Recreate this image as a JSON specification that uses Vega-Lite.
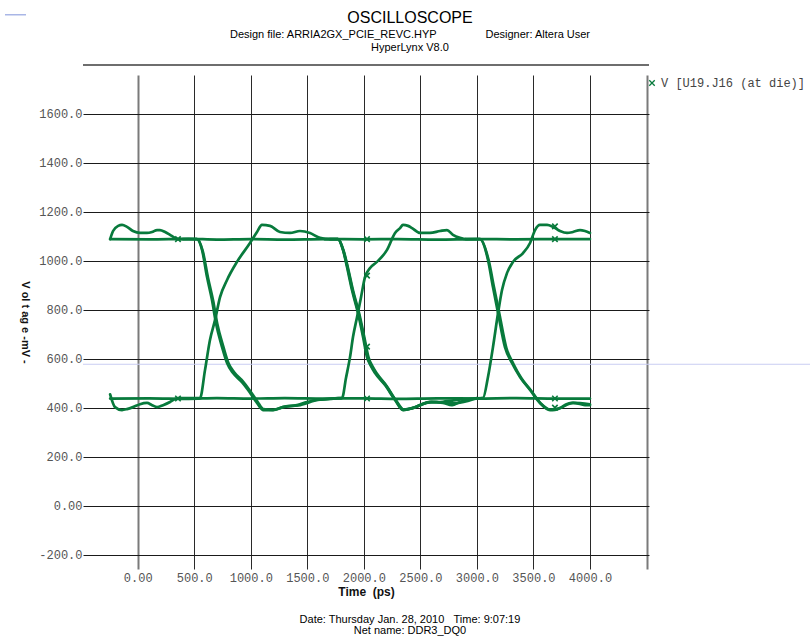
{
  "$schema": "https://vega.github.io/schema/vega-lite/v6.json",
  "width": 566,
  "height": 494,
  "autosize": {"type": "none"},
  "padding": {"left": 83, "top": 75, "right": 161, "bottom": 74},
  "background": "white",
  "datasets": {
    "traces": [
      {"trace": "a", "t": -244, "v": 1089}, {"trace": "a", "t": -218, "v": 1122}, {"trace": "a", "t": -173, "v": 1143}, {"trace": "a", "t": -139, "v": 1147},
      {"trace": "a", "t": -95, "v": 1139}, {"trace": "a", "t": -42, "v": 1122}, {"trace": "a", "t": 20, "v": 1114}, {"trace": "a", "t": 82, "v": 1114},
      {"trace": "a", "t": 127, "v": 1118}, {"trace": "a", "t": 171, "v": 1126}, {"trace": "a", "t": 197, "v": 1126}, {"trace": "a", "t": 242, "v": 1118},
      {"trace": "a", "t": 286, "v": 1106}, {"trace": "a", "t": 330, "v": 1094}, {"trace": "a", "t": 356, "v": 1089}, {"trace": "a", "t": 418, "v": 1089},
      {"trace": "a", "t": 524, "v": 1089}, {"trace": "a", "t": 569, "v": 1045}, {"trace": "a", "t": 613, "v": 934}, {"trace": "a", "t": 657, "v": 840},
      {"trace": "a", "t": 692, "v": 746}, {"trace": "a", "t": 746, "v": 648}, {"trace": "a", "t": 790, "v": 583}, {"trace": "a", "t": 843, "v": 542},
      {"trace": "a", "t": 922, "v": 505}, {"trace": "a", "t": 976, "v": 473}, {"trace": "a", "t": 1055, "v": 420}, {"trace": "a", "t": 1108, "v": 391},
      {"trace": "a", "t": 1197, "v": 391}, {"trace": "a", "t": 1285, "v": 403}, {"trace": "a", "t": 1409, "v": 411}, {"trace": "a", "t": 1497, "v": 424},
      {"trace": "a", "t": 1586, "v": 432}, {"trace": "a", "t": 1701, "v": 436}, {"trace": "a", "t": 1771, "v": 440}, {"trace": "a", "t": 1807, "v": 440},
      {"trace": "a", "t": 1842, "v": 522}, {"trace": "a", "t": 1878, "v": 608}, {"trace": "a", "t": 1904, "v": 689}, {"trace": "a", "t": 1940, "v": 771},
      {"trace": "a", "t": 1975, "v": 852}, {"trace": "a", "t": 2010, "v": 934}, {"trace": "a", "t": 2055, "v": 971}, {"trace": "a", "t": 2116, "v": 996},
      {"trace": "a", "t": 2205, "v": 1045}, {"trace": "a", "t": 2276, "v": 1114}, {"trace": "a", "t": 2320, "v": 1134}, {"trace": "a", "t": 2346, "v": 1147},
      {"trace": "a", "t": 2391, "v": 1143}, {"trace": "a", "t": 2426, "v": 1134}, {"trace": "a", "t": 2497, "v": 1114}, {"trace": "a", "t": 2585, "v": 1114},
      {"trace": "a", "t": 2674, "v": 1122}, {"trace": "a", "t": 2735, "v": 1126}, {"trace": "a", "t": 2788, "v": 1106}, {"trace": "a", "t": 2850, "v": 1094},
      {"trace": "a", "t": 2912, "v": 1089}, {"trace": "a", "t": 3027, "v": 1089}, {"trace": "a", "t": 3098, "v": 1004}, {"trace": "a", "t": 3142, "v": 893},
      {"trace": "a", "t": 3187, "v": 787}, {"trace": "a", "t": 3248, "v": 648}, {"trace": "a", "t": 3310, "v": 583}, {"trace": "a", "t": 3381, "v": 526},
      {"trace": "a", "t": 3470, "v": 473}, {"trace": "a", "t": 3558, "v": 420}, {"trace": "a", "t": 3646, "v": 391}, {"trace": "a", "t": 3690, "v": 392},
      {"trace": "a", "t": 3735, "v": 399}, {"trace": "a", "t": 3797, "v": 416}, {"trace": "a", "t": 3850, "v": 420}, {"trace": "a", "t": 3912, "v": 416},
      {"trace": "a", "t": 3956, "v": 411}, {"trace": "a", "t": 4000, "v": 411},

      {"trace": "b", "t": -244, "v": 455}, {"trace": "b", "t": -201, "v": 403}, {"trace": "b", "t": -139, "v": 391}, {"trace": "b", "t": -95, "v": 395},
      {"trace": "b", "t": -42, "v": 403}, {"trace": "b", "t": 20, "v": 415}, {"trace": "b", "t": 82, "v": 420}, {"trace": "b", "t": 127, "v": 411},
      {"trace": "b", "t": 171, "v": 403}, {"trace": "b", "t": 224, "v": 411}, {"trace": "b", "t": 286, "v": 424}, {"trace": "b", "t": 330, "v": 436},
      {"trace": "b", "t": 356, "v": 440}, {"trace": "b", "t": 418, "v": 440}, {"trace": "b", "t": 551, "v": 440}, {"trace": "b", "t": 595, "v": 554},
      {"trace": "b", "t": 639, "v": 677}, {"trace": "b", "t": 684, "v": 759}, {"trace": "b", "t": 728, "v": 852}, {"trace": "b", "t": 790, "v": 922},
      {"trace": "b", "t": 878, "v": 996}, {"trace": "b", "t": 993, "v": 1073}, {"trace": "b", "t": 1055, "v": 1118}, {"trace": "b", "t": 1099, "v": 1147},
      {"trace": "b", "t": 1170, "v": 1143}, {"trace": "b", "t": 1258, "v": 1118}, {"trace": "b", "t": 1347, "v": 1114}, {"trace": "b", "t": 1435, "v": 1122},
      {"trace": "b", "t": 1524, "v": 1114}, {"trace": "b", "t": 1612, "v": 1094}, {"trace": "b", "t": 1701, "v": 1089}, {"trace": "b", "t": 1771, "v": 1089},
      {"trace": "b", "t": 1816, "v": 1045}, {"trace": "b", "t": 1851, "v": 975}, {"trace": "b", "t": 1895, "v": 881}, {"trace": "b", "t": 1948, "v": 787},
      {"trace": "b", "t": 1993, "v": 689}, {"trace": "b", "t": 2028, "v": 607}, {"trace": "b", "t": 2063, "v": 570}, {"trace": "b", "t": 2099, "v": 542},
      {"trace": "b", "t": 2187, "v": 493}, {"trace": "b", "t": 2276, "v": 432}, {"trace": "b", "t": 2346, "v": 391}, {"trace": "b", "t": 2426, "v": 399},
      {"trace": "b", "t": 2497, "v": 411}, {"trace": "b", "t": 2585, "v": 424}, {"trace": "b", "t": 2700, "v": 420}, {"trace": "b", "t": 2780, "v": 411},
      {"trace": "b", "t": 2850, "v": 424}, {"trace": "b", "t": 2939, "v": 436}, {"trace": "b", "t": 3054, "v": 440}, {"trace": "b", "t": 3098, "v": 526},
      {"trace": "b", "t": 3142, "v": 648}, {"trace": "b", "t": 3187, "v": 787}, {"trace": "b", "t": 3222, "v": 881}, {"trace": "b", "t": 3266, "v": 950},
      {"trace": "b", "t": 3319, "v": 996}, {"trace": "b", "t": 3408, "v": 1032}, {"trace": "b", "t": 3470, "v": 1073}, {"trace": "b", "t": 3514, "v": 1126},
      {"trace": "b", "t": 3558, "v": 1147}, {"trace": "b", "t": 3620, "v": 1147}, {"trace": "b", "t": 3673, "v": 1139}, {"trace": "b", "t": 3735, "v": 1122},
      {"trace": "b", "t": 3797, "v": 1114}, {"trace": "b", "t": 3850, "v": 1118}, {"trace": "b", "t": 3912, "v": 1126}, {"trace": "b", "t": 3956, "v": 1122},
      {"trace": "b", "t": 4000, "v": 1114},

      {"trace": "c", "t": -244, "v": 1089}, {"trace": "c", "t": 100, "v": 1088}, {"trace": "c", "t": 450, "v": 1090}, {"trace": "c", "t": 700, "v": 1087},
      {"trace": "c", "t": 1000, "v": 1089}, {"trace": "c", "t": 1300, "v": 1087}, {"trace": "c", "t": 1650, "v": 1089}, {"trace": "c", "t": 2000, "v": 1088},
      {"trace": "c", "t": 2300, "v": 1089}, {"trace": "c", "t": 2650, "v": 1087}, {"trace": "c", "t": 3000, "v": 1089}, {"trace": "c", "t": 3350, "v": 1088},
      {"trace": "c", "t": 3700, "v": 1089}, {"trace": "c", "t": 4000, "v": 1089},

      {"trace": "d", "t": -244, "v": 438}, {"trace": "d", "t": 100, "v": 439}, {"trace": "d", "t": 450, "v": 437}, {"trace": "d", "t": 700, "v": 440},
      {"trace": "d", "t": 1000, "v": 438}, {"trace": "d", "t": 1300, "v": 440}, {"trace": "d", "t": 1650, "v": 438}, {"trace": "d", "t": 2000, "v": 439},
      {"trace": "d", "t": 2300, "v": 437}, {"trace": "d", "t": 2650, "v": 439}, {"trace": "d", "t": 3000, "v": 438}, {"trace": "d", "t": 3350, "v": 440},
      {"trace": "d", "t": 3700, "v": 438}, {"trace": "d", "t": 4000, "v": 438},

      {"trace": "e1", "t": 400, "v": 1089}, {"trace": "e1", "t": 524, "v": 1089}, {"trace": "e1", "t": 575, "v": 1040}, {"trace": "e1", "t": 622, "v": 930},
      {"trace": "e1", "t": 668, "v": 835}, {"trace": "e1", "t": 703, "v": 744}, {"trace": "e1", "t": 757, "v": 650}, {"trace": "e1", "t": 800, "v": 585},
      {"trace": "e1", "t": 853, "v": 545}, {"trace": "e1", "t": 930, "v": 508}, {"trace": "e1", "t": 985, "v": 475}, {"trace": "e1", "t": 1060, "v": 425},
      {"trace": "e1", "t": 1110, "v": 395}, {"trace": "e1", "t": 1197, "v": 392}, {"trace": "e1", "t": 1300, "v": 405}, {"trace": "e1", "t": 1420, "v": 410},
      {"trace": "e1", "t": 1600, "v": 433}, {"trace": "e1", "t": 1800, "v": 440},

      {"trace": "e2", "t": 1650, "v": 1089}, {"trace": "e2", "t": 1771, "v": 1089}, {"trace": "e2", "t": 1822, "v": 1040}, {"trace": "e2", "t": 1860, "v": 970},
      {"trace": "e2", "t": 1905, "v": 878}, {"trace": "e2", "t": 1960, "v": 783}, {"trace": "e2", "t": 2005, "v": 686}, {"trace": "e2", "t": 2042, "v": 605},
      {"trace": "e2", "t": 2078, "v": 568}, {"trace": "e2", "t": 2115, "v": 540}, {"trace": "e2", "t": 2200, "v": 490}, {"trace": "e2", "t": 2285, "v": 430},
      {"trace": "e2", "t": 2355, "v": 393}, {"trace": "e2", "t": 2440, "v": 400}, {"trace": "e2", "t": 2550, "v": 420}, {"trace": "e2", "t": 2700, "v": 425},
      {"trace": "e2", "t": 2900, "v": 436}, {"trace": "e2", "t": 3050, "v": 440},

      {"trace": "e3", "t": 1700, "v": 1089}, {"trace": "e3", "t": 1771, "v": 1089}, {"trace": "e3", "t": 1818, "v": 1042}, {"trace": "e3", "t": 1856, "v": 972},
      {"trace": "e3", "t": 1900, "v": 880}, {"trace": "e3", "t": 1954, "v": 785}, {"trace": "e3", "t": 1999, "v": 688}, {"trace": "e3", "t": 2035, "v": 606},
      {"trace": "e3", "t": 2070, "v": 569}, {"trace": "e3", "t": 2107, "v": 541}, {"trace": "e3", "t": 2195, "v": 491}, {"trace": "e3", "t": 2280, "v": 431},
      {"trace": "e3", "t": 2350, "v": 392}, {"trace": "e3", "t": 2430, "v": 399}, {"trace": "e3", "t": 2600, "v": 424}, {"trace": "e3", "t": 2800, "v": 418},
      {"trace": "e3", "t": 3000, "v": 440},

      {"trace": "e4", "t": 2900, "v": 1089}, {"trace": "e4", "t": 3027, "v": 1089}, {"trace": "e4", "t": 3105, "v": 1000}, {"trace": "e4", "t": 3152, "v": 890},
      {"trace": "e4", "t": 3199, "v": 783}, {"trace": "e4", "t": 3260, "v": 645}, {"trace": "e4", "t": 3322, "v": 580}, {"trace": "e4", "t": 3392, "v": 522},
      {"trace": "e4", "t": 3480, "v": 470}, {"trace": "e4", "t": 3565, "v": 418}, {"trace": "e4", "t": 3650, "v": 393}, {"trace": "e4", "t": 3720, "v": 397},
      {"trace": "e4", "t": 3850, "v": 420}, {"trace": "e4", "t": 4000, "v": 414}
    ],
    "markers": [
      {"t": 356, "v": 1089}, {"t": 356, "v": 438},
      {"t": 2028, "v": 1089}, {"t": 2028, "v": 940}, {"t": 2028, "v": 650}, {"t": 2028, "v": 438},
      {"t": 3690, "v": 1141}, {"t": 3690, "v": 1089}, {"t": 3690, "v": 438}, {"t": 3690, "v": 401}
    ]
  },
  "layer": [
    {
      "data": {"values": [{}]},
      "mark": {"type": "rule", "color": "#c9cdf2", "strokeWidth": 1.2, "clip": false},
      "encoding": {
        "x": {"datum": -484, "type": "quantitative", "scale": {"domain": [-484, 4522], "nice": false, "zero": false}, "title": "Time\u00a0 (ps)"},
        "x2": {"datum": 5946},
        "y": {"datum": 578, "type": "quantitative", "scale": {"domain": [-258, 1759], "nice": false, "zero": false}, "title": "V ol t ag e -mV -"}
      }
    },
    {
      "data": {"name": "traces"},
      "mark": {"type": "line", "interpolate": "monotone", "strokeWidth": 2.7, "strokeCap": "round", "strokeJoin": "round"},
      "encoding": {
        "x": {
          "field": "t", "type": "quantitative",
          "scale": {"domain": [-484, 4522], "nice": false, "zero": false},
          "title": "Time\u00a0 (ps)",
          "axis": {
            "values": [0, 500, 1000, 1500, 2000, 2500, 3000, 3500, 4000, 4500],
            "labelExpr": "datum.value == 0 ? '0.00' : (datum.value > 4000 ? '' : format(datum.value, '.1f'))",
            "gridColor": {"condition": {"test": "datum.value == 0 || datum.value == 4500", "value": "#7a7a7a"}, "value": "#2a2a2a"},
            "gridWidth": {"condition": {"test": "datum.value == 0 || datum.value == 4500", "value": 2}, "value": 1},
            "labelPadding": 3,
            "labelBaseline": "top",
            "titlePadding": 3,
            "titleFontSize": 12
          }
        },
        "y": {
          "field": "v", "type": "quantitative",
          "scale": {"domain": [-258, 1759], "nice": false, "zero": false},
          "title": "V ol t ag e -mV -",
          "axis": {
            "values": [-200, 0, 200, 400, 600, 800, 1000, 1200, 1400, 1600],
            "labelExpr": "datum.value == 0 ? '0.00' : (datum.value < 0 ? '-' + format(-datum.value, '.1f') : format(datum.value, '.1f'))",
            "gridColor": "#1a1a1a",
            "labelPadding": 1,
            "labelAlign": "right",
            "titleAngle": 90,
            "titleBaseline": "top",
            "titlePadding": 8,
            "titleFontSize": 11
          }
        },
        "detail": {"field": "trace", "type": "nominal"},
        "color": {
          "datum": "V [U19.J16 (at die)]",
          "scale": {"range": ["#087a3c"]},
          "legend": {
            "title": null,
            "orient": "none",
            "legendX": 563,
            "legendY": 2,
            "padding": 0,
            "symbolType": "M-1,-1L1,1M-1,1L1,-1",
            "symbolSize": 30,
            "symbolStrokeWidth": 1.3,
            "symbolFillColor": "transparent",
            "symbolStrokeColor": "#1a9a55",
            "labelFont": "Liberation Mono",
            "labelFontSize": 12,
            "labelColor": "#444444",
            "labelOffset": 3
          }
        }
      }
    },
    {
      "data": {"name": "markers"},
      "mark": {"type": "point", "shape": "M-1,-1L1,1M-1,1L1,-1", "filled": false, "size": 30, "strokeWidth": 1.6, "opacity": 1},
      "encoding": {
        "x": {"field": "t", "type": "quantitative", "scale": {"domain": [-484, 4522], "nice": false, "zero": false}, "title": "Time\u00a0 (ps)"},
        "y": {"field": "v", "type": "quantitative", "scale": {"domain": [-258, 1759], "nice": false, "zero": false}, "title": "V ol t ag e -mV -"},
        "color": {"datum": "V [U19.J16 (at die)]"}
      }
    },
    {
      "data": {"values": [{}]},
      "mark": {"type": "rule", "color": "#6e6e6e", "strokeWidth": 2, "clip": false},
      "encoding": {
        "y": {"datum": 1800, "type": "quantitative", "scale": {"domain": [-258, 1759], "nice": false, "zero": false}, "title": "V ol t ag e -mV -"}
      }
    },
    {
      "data": {"values": [{}]},
      "mark": {"type": "rule", "color": "#a9b6e6", "strokeWidth": 1.5, "clip": false},
      "encoding": {
        "x": {"datum": -1174, "type": "quantitative", "scale": {"domain": [-484, 4522], "nice": false, "zero": false}, "title": "Time\u00a0 (ps)"},
        "x2": {"datum": -988},
        "y": {"datum": 2005, "type": "quantitative", "scale": {"domain": [-258, 1759], "nice": false, "zero": false}, "title": "V ol t ag e -mV -"}
      }
    },
    {
      "data": {"values": [{}]},
      "mark": {
        "type": "text",
        "text": "OSCILLOSCOPE",
        "font": "Liberation Sans",
        "fontSize": 16,
        "align": "center",
        "baseline": "middle",
        "color": "#000000",
        "clip": false
      },
      "encoding": {
        "x": {"datum": 2408, "type": "quantitative", "scale": {"domain": [-484, 4522], "nice": false, "zero": false}, "title": "Time\u00a0 (ps)"},
        "y": {"datum": 1993, "type": "quantitative", "scale": {"domain": [-258, 1759], "nice": false, "zero": false}, "title": "V ol t ag e -mV -"}
      }
    },
    {
      "data": {"values": [{}]},
      "mark": {
        "type": "text",
        "text": ["Design file: ARRIA2GX_PCIE_REVC.HYP\u00a0\u00a0\u00a0\u00a0\u00a0\u00a0\u00a0\u00a0\u00a0\u00a0\u00a0\u00a0\u00a0\u00a0\u00a0\u00a0Designer: Altera User", "HyperLynx V8.0"],
        "font": "Liberation Sans",
        "fontSize": 11,
        "lineHeight": 13,
        "align": "center",
        "baseline": "top",
        "color": "#000000",
        "clip": false
      },
      "encoding": {
        "x": {"datum": 2408, "type": "quantitative", "scale": {"domain": [-484, 4522], "nice": false, "zero": false}, "title": "Time\u00a0 (ps)"},
        "y": {"datum": 1947, "type": "quantitative", "scale": {"domain": [-258, 1759], "nice": false, "zero": false}, "title": "V ol t ag e -mV -"}
      }
    },
    {
      "data": {"values": [{}]},
      "mark": {
        "type": "text",
        "text": ["Date: Thursday Jan. 28, 2010\u00a0\u00a0\u00a0Time: 9:07:19", "Net name: DDR3_DQ0"],
        "font": "Liberation Sans",
        "fontSize": 11,
        "lineHeight": 11,
        "align": "center",
        "baseline": "top",
        "color": "#000000",
        "clip": false
      },
      "encoding": {
        "x": {"datum": 2408, "type": "quantitative", "scale": {"domain": [-484, 4522], "nice": false, "zero": false}, "title": "Time\u00a0 (ps)"},
        "y": {"datum": -440, "type": "quantitative", "scale": {"domain": [-258, 1759], "nice": false, "zero": false}, "title": "V ol t ag e -mV -"}
      }
    }
  ],
  "config": {
    "view": {"stroke": null},
    "axis": {
      "domain": false,
      "ticks": false,
      "grid": true,
      "gridOpacity": 1,
      "labelFont": "Liberation Mono",
      "labelFontSize": 12,
      "labelColor": "#555555",
      "titleFont": "Liberation Sans",
      "titleFontWeight": "bold",
      "titleColor": "#111111"
    }
  }
}
